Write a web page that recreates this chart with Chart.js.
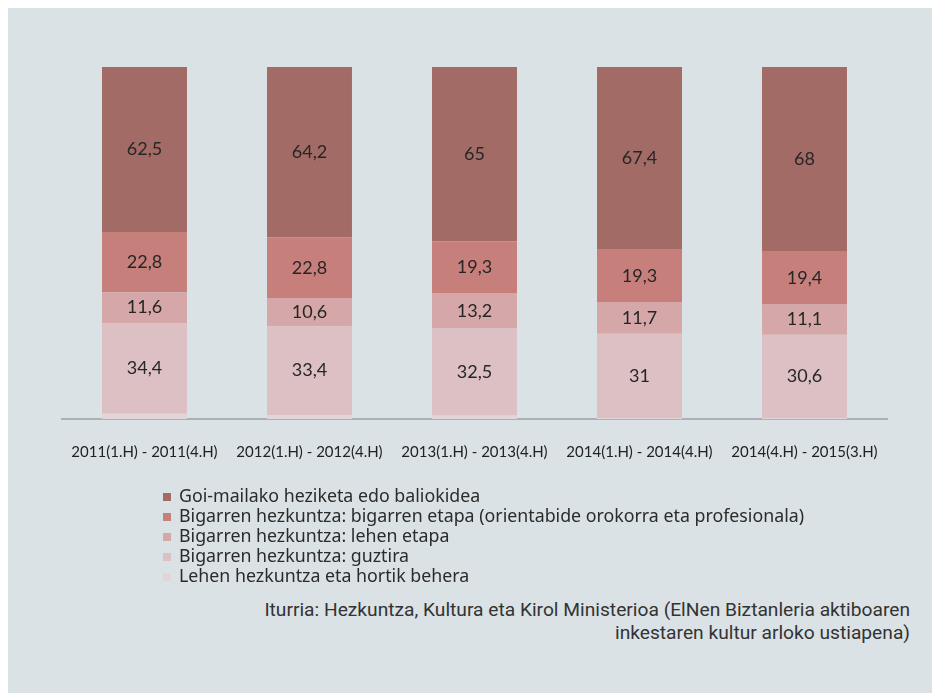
<!DOCTYPE html>
<html>
<head>
<meta charset="utf-8">
<script src="https://cdn.jsdelivr.net/npm/chart.js@4.4.1/dist/chart.umd.min.js"></script>
<style>
    html, body { margin: 0; padding: 0; background: #ffffff; }
    .panel { position: absolute; left: 8px; top: 8px; width: 924px; height: 685px; background: #dae2e5; }
    .graph { position: absolute; left: 0; top: 0; width: 932px; height: 489px; }
    .legend { position: absolute; left: 163px; top: 485px; font-family: "Noto Sans", sans-serif; font-size: 17.8px; color: #2b2b2b; }
    .legend div { height: 20px; line-height: 20px; white-space: nowrap; }
    .legend span { display: inline-block; width: 8px; height: 8px; margin-right: 8px; vertical-align: 1px; }
    .source { position: absolute; right: 22px; top: 598px; text-align: right; font-family: Roboto, sans-serif; font-size: 19.2px; line-height: 23px; color: #333; }
</style>
</head>
<body>
<div class="panel"></div>
<div class="graph"><canvas class="graph---chart" width="932" height="489"></canvas></div>
<div class="legend"></div>
<div class="source">Iturria: Hezkuntza, Kultura eta Kirol Ministerioa (ElNen Biztanleria aktiboaren<br>inkestaren kultur arloko ustiapena)</div>
<script>
"use strict";

const labeeels = ["2011(1.H) - 2011(4.H)", "2012(1.H) - 2012(4.H)", "2013(1.H) - 2013(4.H)", "2014(1.H) - 2014(4.H)", "2014(4.H) - 2015(3.H)"];

// bottom to top
const lehen = [2.0, 1.5, 1.3, 0.4, 0.4];
const guztira = [34.4, 33.4, 32.5, 31, 30.6];
const lehenEtapa = [11.6, 10.6, 13.2, 11.7, 11.1];
const bigarrenEtapa = [22.8, 22.8, 19.3, 19.3, 19.4];
const goiMaila = [62.5, 64.2, 65, 67.4, 68];

const names = [
    "Lehen hezkuntza eta hortik behera",
    "Bigarren hezkuntza: guztira",
    "Bigarren hezkuntza: lehen etapa",
    "Bigarren hezkuntza: bigarren etapa (orientabide orokorra eta profesionala)",
    "Goi-mailako heziketa edo baliokidea"
];
const colors = ["#e2d4d7", "#dcc0c3", "#d5a7a8", "#c77f7b", "#a36b65"];

const series = [lehen, guztira, lehenEtapa, bigarrenEtapa, goiMaila];

// 100% stacked: each bar is scaled to its own total
const totals = labeeels.map((l, i) => series.reduce((s, arr) => s + arr[i], 0));

const datasets = series.map((arr, k) => ({
    label: names[k],
    data: arr.map((v, i) => v / totals[i] * 100),
    raw: arr,
    backgroundColor: colors[k],
    borderWidth: 0,
    categoryPercentage: 1,
    barPercentage: 0.515
}));

const valueLabels = {
    id: "valueLabels",
    afterDatasetsDraw(chart) {
        const ctx = chart.ctx;
        ctx.save();
        ctx.font = "18px Lato, sans-serif";
        ctx.fillStyle = "#262626";
        ctx.textAlign = "center";
        ctx.textBaseline = "middle";
        chart.data.datasets.forEach((ds, k) => {
            if (k === 0) return;
            chart.getDatasetMeta(k).data.forEach((bar, i) => {
                const mid = (bar.y + bar.base) / 2;
                ctx.fillText(String(ds.raw[i]).replace(".", ","), bar.x, mid);
            });
        });
        ctx.restore();
    }
};

new Chart(document.querySelector(".graph---chart"), {
    type: "bar",
    data: { labels: labeeels, datasets: datasets },
    options: {
        responsive: false,
        animation: false,
        layout: { padding: { left: 62, right: 45, top: 67, bottom: 12 } },
        plugins: { legend: { display: false }, tooltip: { enabled: false } },
        scales: {
            x: {
                stacked: true,
                grid: { display: false },
                border: { display: true, color: "#a9b2b6", width: 2 },
                ticks: { color: "#222", font: { family: "Lato", size: 15 }, padding: 16, maxRotation: 0, autoSkip: false }
            },
            y: { stacked: true, display: false, min: 0, max: 100 }
        }
    },
    plugins: [valueLabels]
});

// legend, top series first
const legendBox = document.querySelector(".legend");
for (let k = names.length - 1; k >= 0; k--) {
    legendBox.innerHTML += `<div><span style="background:${colors[k]}"></span>${names[k]}</div>`;
}
</script>
</body>
</html>
